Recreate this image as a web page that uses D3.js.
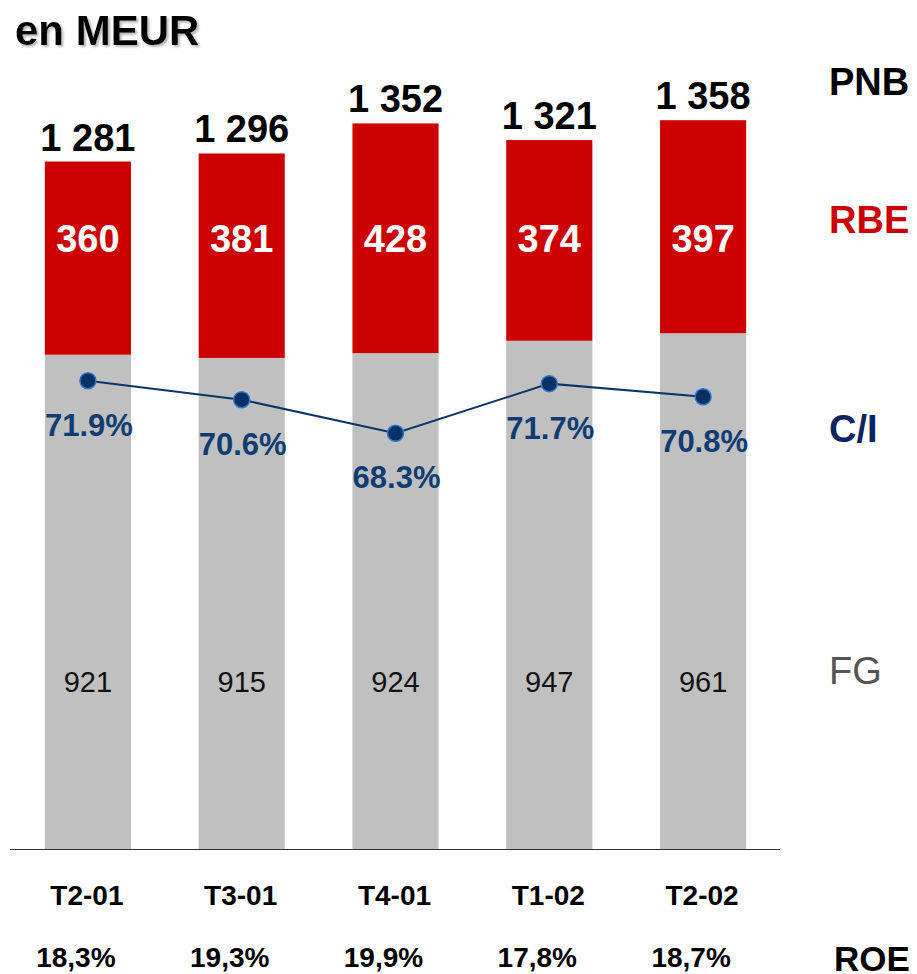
<!DOCTYPE html>
<html>
<head>
<meta charset="utf-8">
<script src="https://cdn.jsdelivr.net/npm/d3@7"></script>
<style>
  body { margin: 0; background: #fff; }
  text { font-family: Arial, "Liberation Sans", sans-serif; }
</style>
</head>
<body>
<svg class="js-chart"></svg>
<script>
// data
var quarters = ['T2-01', 'T3-01', 'T4-01', 'T1-02', 'T2-02'],
    fg = [921, 915, 924, 947, 961],
    rbe = [360, 381, 428, 374, 397],
    pnb = [1281, 1296, 1352, 1321, 1358],
    ci = [71.9, 70.6, 68.3, 71.7, 70.8],
    roe = ['18,3%', '19,3%', '19,9%', '17,8%', '18,7%'];

var width = 917, height = 974;

var svg = d3.select('.js-chart')
    .attr('width', width)
    .attr('height', height);

// drop shadow for the title
var shadow = svg.append('defs').append('filter')
    .attr('id', 'shadow')
    .attr('x', '-10%').attr('y', '-10%')
    .attr('width', '130%').attr('height', '140%');
shadow.append('feDropShadow')
    .attr('dx', 2).attr('dy', 2).attr('stdDeviation', 1)
    .attr('flood-color', '#999').attr('flood-opacity', 0.7);

var x = d3.scaleBand()
    .domain(quarters)
    .range([11, 780])
    .paddingInner(0.44)
    .paddingOuter(0.22);

var y = d3.scaleLinear().domain([0, 1500]).range([849, 44]);
var yCi = d3.scaleLinear().domain([60, 80]).range([554.4, 262.5]);

var fmtSpace = function (v) { return d3.format(',')(v).replace(/,/g, ' '); };

svg.append('text').attr('x', 15).attr('y', 45)
    .attr('font-size', 42).attr('font-weight', 'bold').attr('fill', '#000')
    .attr('filter', 'url(#shadow)')
    .text('en MEUR');

// bars: FG (grey) then RBE (red) stacked
var bars = svg.selectAll('g.bar')
    .data(quarters)
    .enter().append('g')
    .attr('class', 'bar');

bars.append('rect')
    .attr('x', function (d) { return x(d); })
    .attr('width', x.bandwidth())
    .attr('y', function (d, i) { return y(fg[i]); })
    .attr('height', function (d, i) { return y(0) - y(fg[i]); })
    .attr('fill', '#c0c0c0');

bars.append('rect')
    .attr('x', function (d) { return x(d); })
    .attr('width', x.bandwidth())
    .attr('y', function (d, i) { return y(fg[i] + rbe[i]); })
    .attr('height', function (d, i) { return y(fg[i]) - y(fg[i] + rbe[i]); })
    .attr('fill', '#cc0000');

// baseline
svg.append('line')
    .attr('x1', 10).attr('x2', 780)
    .attr('y1', y(0) + 0.5).attr('y2', y(0) + 0.5)
    .attr('stroke', '#333').attr('stroke-width', 1.2);

var cx = function (d) { return x(d) + x.bandwidth() / 2; };

// totals PNB
bars.append('text')
    .attr('x', cx)
    .attr('y', function (d, i) { return y(pnb[i]) - 11; })
    .attr('text-anchor', 'middle')
    .attr('font-size', 38).attr('font-weight', 'bold').attr('fill', '#000')
    .text(function (d, i) { return fmtSpace(pnb[i]); });

// RBE values
bars.append('text')
    .attr('x', cx)
    .attr('y', 252)
    .attr('text-anchor', 'middle')
    .attr('font-size', 38).attr('font-weight', 'bold').attr('fill', '#fff')
    .text(function (d, i) { return rbe[i]; });

// FG values
bars.append('text')
    .attr('x', cx)
    .attr('y', 692)
    .attr('text-anchor', 'middle')
    .attr('font-size', 29).attr('fill', '#111')
    .text(function (d, i) { return fg[i]; });

// C/I line
var line = d3.line()
    .x(function (d, i) { return cx(quarters[i]); })
    .y(function (d) { return yCi(d); });

svg.append('path')
    .datum(ci)
    .attr('d', line)
    .attr('fill', 'none')
    .attr('stroke', '#0b3468')
    .attr('stroke-width', 2);

svg.selectAll('circle.ci')
    .data(ci)
    .enter().append('circle')
    .attr('class', 'ci')
    .attr('cx', function (d, i) { return cx(quarters[i]); })
    .attr('cy', function (d) { return yCi(d); })
    .attr('r', 8)
    .attr('fill', '#0a3064')
    .attr('stroke', '#2a7ad0')
    .attr('stroke-width', 1.5);

svg.selectAll('text.ci')
    .data(ci)
    .enter().append('text')
    .attr('class', 'ci')
    .attr('x', function (d, i) { return cx(quarters[i]) + 1; })
    .attr('y', function (d) { return yCi(d) + 55; })
    .attr('text-anchor', 'middle')
    .attr('font-size', 31).attr('font-weight', 'bold').attr('fill', '#0f3d73')
    .text(function (d) { return d.toFixed(1) + '%'; });

// category labels and ROE
svg.selectAll('text.cat')
    .data(quarters)
    .enter().append('text')
    .attr('class', 'cat')
    .attr('x', function (d) { return cx(d) - 1; })
    .attr('y', 905)
    .attr('text-anchor', 'middle')
    .attr('font-size', 28).attr('font-weight', 'bold').attr('fill', '#000')
    .text(function (d) { return d; });

svg.selectAll('text.roe')
    .data(roe)
    .enter().append('text')
    .attr('class', 'roe')
    .attr('x', function (d, i) { return cx(quarters[i]) - 12; })
    .attr('y', 967)
    .attr('text-anchor', 'middle')
    .attr('font-size', 28).attr('font-weight', 'bold').attr('fill', '#000')
    .text(function (d) { return d; });

// right-hand legend
var legend = [
  { label: 'PNB', x: 829, y: 95, size: 38, color: '#000', weight: 'bold' },
  { label: 'RBE', x: 829, y: 233, size: 38, color: '#cc0000', weight: 'bold' },
  { label: 'C/I', x: 829, y: 442, size: 38, color: '#0a2463', weight: 'bold' },
  { label: 'FG', x: 829, y: 684, size: 38, color: '#555', weight: 'normal' },
  { label: 'ROE', x: 834, y: 971, size: 35, color: '#000', weight: 'bold' }
];
svg.selectAll('text.legend')
    .data(legend)
    .enter().append('text')
    .attr('class', 'legend')
    .attr('x', function (d) { return d.x; })
    .attr('y', function (d) { return d.y; })
    .attr('font-size', function (d) { return d.size; })
    .attr('font-weight', function (d) { return d.weight; })
    .attr('fill', function (d) { return d.color; })
    .text(function (d) { return d.label; });
</script>
</body>
</html>
